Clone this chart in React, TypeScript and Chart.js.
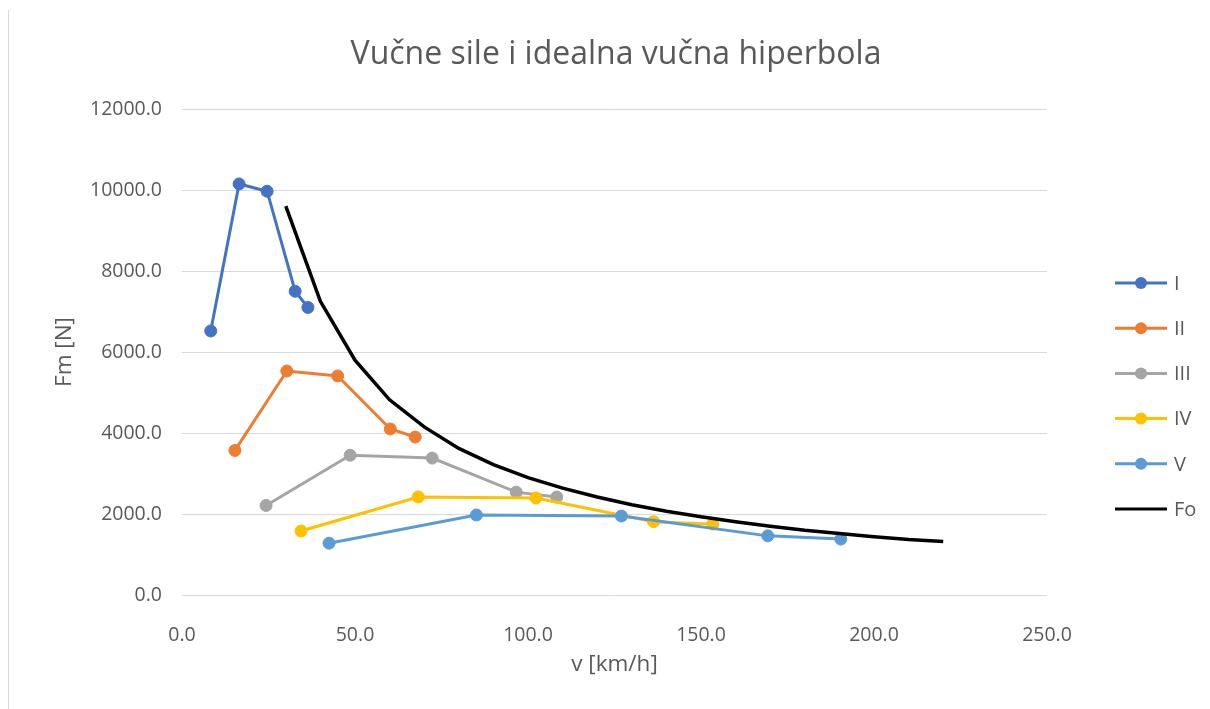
import React, { useEffect, useRef } from "react";
import { Chart, registerables } from "chart.js";

Chart.register(...registerables);

const TITLE = "Vučne sile i idealna vučna hiperbola";
const X_TITLE = "v [km/h]";
const Y_TITLE = "Fm [N]";

const seriesNames = ["I", "II", "III", "IV", "V", "Fo"];
const seriesColors = ["#4472C4", "#ED7D31", "#A5A5A5", "#FFC000", "#5B9BD5", "#000000"];

const vI = [8.3, 16.5, 24.6, 32.7, 36.4];
const fI = [6520, 10150, 9970, 7500, 7100];

const vII = [15.3, 30.3, 45.0, 60.2, 67.4];
const fII = [3570, 5530, 5410, 4100, 3900];

const vIII = [24.3, 48.6, 72.3, 96.6, 108.3];
const fIII = [2210, 3450, 3380, 2540, 2420];

const vIV = [34.4, 68.3, 102.3, 136.3, 153.4];
const fIV = [1580, 2420, 2395, 1810, 1750];

const vV = [42.5, 85.1, 127.0, 169.3, 190.4];
const fV = [1280, 1975, 1950, 1460, 1380];

const vFo = [30, 40, 50, 60, 70, 80, 90, 100, 110, 120, 130, 140, 150, 160, 170, 180, 190, 200, 210, 220];
const fFo = [9600, 7250, 5800, 4820, 4150, 3620, 3220, 2900, 2640, 2420, 2230, 2070, 1930, 1810, 1700, 1600, 1520, 1440, 1370, 1320];

const xTicks = [0, 50, 100, 150, 200, 250];
const yTicks = [0, 2000, 4000, 6000, 8000, 10000, 12000];

const FONT = "'Open Sans', 'Noto Sans', sans-serif";
const TEXT_COLOR = "#595959";
const GRID_COLOR = "#D9D9D9";

function pts(xs: number[], ys: number[]) {
  return xs.map((x, i) => ({ x, y: ys[i] }));
}

const titlePlugin = {
  id: "customTitle",
  afterDraw(chart: any) {
    const ctx = chart.ctx;
    ctx.save();
    ctx.fillStyle = TEXT_COLOR;
    ctx.font = `32px ${FONT}`;
    ctx.textAlign = "center";
    ctx.textBaseline = "middle";
    ctx.fillText(TITLE, 616, 55);
    ctx.restore();
  },
};

const legendPlugin = {
  id: "customLegend",
  afterDraw(chart: any) {
    const ctx = chart.ctx;
    const ds = chart.data.datasets;
    const startY = 283;
    const gap = 45.2;
    ctx.save();
    ds.forEach((d: any, i: number) => {
      const y = startY + i * gap;
      ctx.strokeStyle = d.borderColor;
      ctx.lineWidth = 3;
      ctx.beginPath();
      ctx.moveTo(1115, y);
      ctx.lineTo(1167, y);
      ctx.stroke();
      if (d.pointRadius > 0) {
        ctx.fillStyle = d.borderColor;
        ctx.beginPath();
        ctx.arc(1141, y, 6, 0, Math.PI * 2);
        ctx.fill();
      }
      ctx.fillStyle = TEXT_COLOR;
      ctx.font = `20px ${FONT}`;
      ctx.textBaseline = "middle";
      ctx.textAlign = "left";
      ctx.fillText(d.label, 1174, y + 1);
    });
    ctx.restore();
  },
};

export default function App() {
  const ref = useRef<HTMLCanvasElement | null>(null);

  useEffect(() => {
    if (!ref.current) return;
    const series = [
      pts(vI, fI),
      pts(vII, fII),
      pts(vIII, fIII),
      pts(vIV, fIV),
      pts(vV, fV),
      pts(vFo, fFo),
    ];
    const datasets = series.map((data, i) => {
      const isFo = i === 5;
      return {
        label: seriesNames[i],
        data,
        borderColor: seriesColors[i],
        backgroundColor: seriesColors[i],
        borderWidth: isFo ? 3.5 : 3,
        pointRadius: isFo ? 0 : 6,
        pointBorderWidth: 1,
        pointHoverRadius: isFo ? 0 : 6,
        showLine: true,
        fill: false,
        tension: 0,
        order: 5 - i,
      };
    });

    const chart = new Chart(ref.current, {
      type: "scatter",
      data: { datasets } as any,
      plugins: [titlePlugin, legendPlugin],
      options: {
        responsive: false,
        animation: false,
        layout: { padding: { left: 0, right: 163, top: 109, bottom: 0 } },
        plugins: {
          legend: { display: false },
          tooltip: { enabled: false },
          title: { display: false },
        },
        scales: {
          x: {
            type: "linear",
            min: 0,
            max: 250,
            afterBuildTicks: (s: any) => {
              s.ticks = xTicks.map((v) => ({ value: v }));
            },
            afterFit: (s: any) => {
              s.height = 114;
            },
            grid: { display: false, drawTicks: false },
            border: { display: false },
            ticks: {
              color: TEXT_COLOR,
              font: { family: FONT, size: 19.5 },
              padding: 29,
              maxRotation: 0,
              callback: (v: any) => Number(v).toFixed(1),
            },
            title: {
              display: true,
              text: X_TITLE,
              color: TEXT_COLOR,
              font: { family: FONT, size: 22.5 },
              padding: { top: 0, bottom: 30.5 },
            },
          },
          y: {
            type: "linear",
            min: 0,
            max: 12000,
            afterBuildTicks: (s: any) => {
              s.ticks = yTicks.map((v) => ({ value: v }));
            },
            afterFit: (s: any) => {
              s.width = 182;
            },
            grid: { color: GRID_COLOR, lineWidth: 1, drawTicks: false },
            border: { display: false },
            ticks: {
              color: TEXT_COLOR,
              font: { family: FONT, size: 19.5 },
              padding: 20,
              callback: (v: any) => Number(v).toFixed(1),
            },
            title: {
              display: true,
              text: Y_TITLE,
              color: TEXT_COLOR,
              font: { family: FONT, size: 22.5 },
              padding: { top: 51.5, bottom: 0 },
            },
          },
        },
      } as any,
    });
    return () => chart.destroy();
  }, []);

  return (
    <div style={{ position: "fixed", left: 0, top: 0, width: 1210, height: 709, background: "#fff" }}>
      <div style={{ position: "absolute", left: 8, top: 10, bottom: 0, width: 1, background: GRID_COLOR }} />
      <canvas ref={ref} width={1210} height={709} style={{ display: "block", position: "absolute", left: 0, top: 0 }} />
    </div>
  );
}
